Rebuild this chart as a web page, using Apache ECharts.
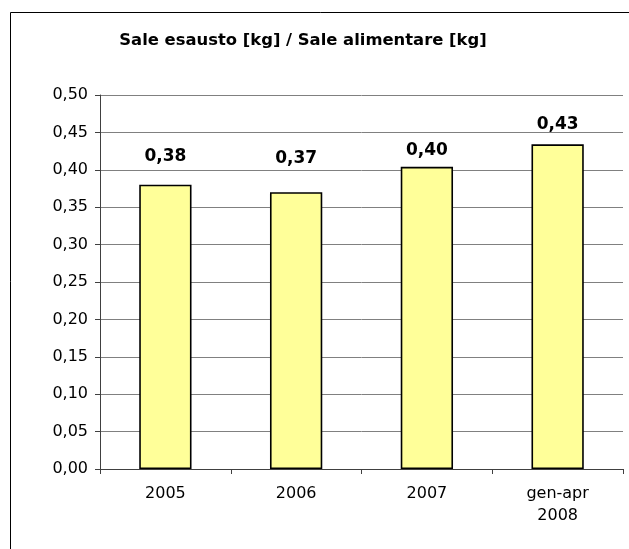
<!DOCTYPE html>
<html>
<head>
<meta charset="utf-8">
<script src="https://cdn.jsdelivr.net/npm/echarts@6/dist/echarts.min.js"></script>
<style>
  html, body { margin: 0; padding: 0; background: #fff; }
  #chart { width: 629px; height: 549px; }
</style>
</head>
<body>
<div id="chart"></div>
<script>
// dati
const categories = ['2005', '2006', '2007', 'gen-apr\n2008']
const values = [0.38, 0.37, 0.404, 0.434]
const labelGaps = [20, 25, 7.5, 11]

const fmt = v => v.toFixed(2).replace('.', ',')

const chart = echarts.init(document.getElementById('chart'))
chart.setOption({
  animation: false,
  textStyle: { fontFamily: 'DejaVu Sans' },
  title: {
    text: 'Sale esausto [kg] / Sale alimentare [kg]',
    left: 298,
    top: 28,
    textAlign: 'center',
    textStyle: { fontSize: 16.4, fontWeight: 'bold', color: '#000', fontFamily: 'DejaVu Sans' }
  },
  graphic: [{
    type: 'rect',
    shape: { x: 10.5, y: 12.5, width: 640, height: 560 },
    style: { fill: 'none', stroke: '#000', lineWidth: 1 },
    silent: true
  }],
  grid: { left: 100, right: 6, top: 95, bottom: 80 },
  xAxis: {
    type: 'category',
    data: categories,
    axisLine: { lineStyle: { color: '#404040', width: 1 } },
    axisTick: { show: true, length: 5, alignWithLabel: false, lineStyle: { color: '#404040' } },
    axisLabel: { color: '#000', fontSize: 16, margin: 14, lineHeight: 22 }
  },
  yAxis: {
    type: 'value',
    min: 0,
    max: 0.5,
    interval: 0.05,
    axisLine: { show: true, lineStyle: { color: '#404040', width: 1 } },
    axisTick: { show: true, length: 5, lineStyle: { color: '#404040' } },
    axisLabel: { color: '#000', fontSize: 16, margin: 12, formatter: v => fmt(v) },
    splitLine: { lineStyle: { color: '#808080', width: 1 } }
  },
  series: [{
    type: 'bar',
    barWidth: '40%',
    data: values.map((v, i) => ({
      value: v,
      label: { distance: labelGaps[i] }
    })),
    itemStyle: { color: '#ffff99', borderColor: '#000', borderWidth: 1.6 },
    label: {
      show: true,
      position: 'top',
      color: '#000',
      fontSize: 17,
      fontWeight: 'bold',
      formatter: p => fmt(p.value)
    }
  }]
})
</script>
</body>
</html>
